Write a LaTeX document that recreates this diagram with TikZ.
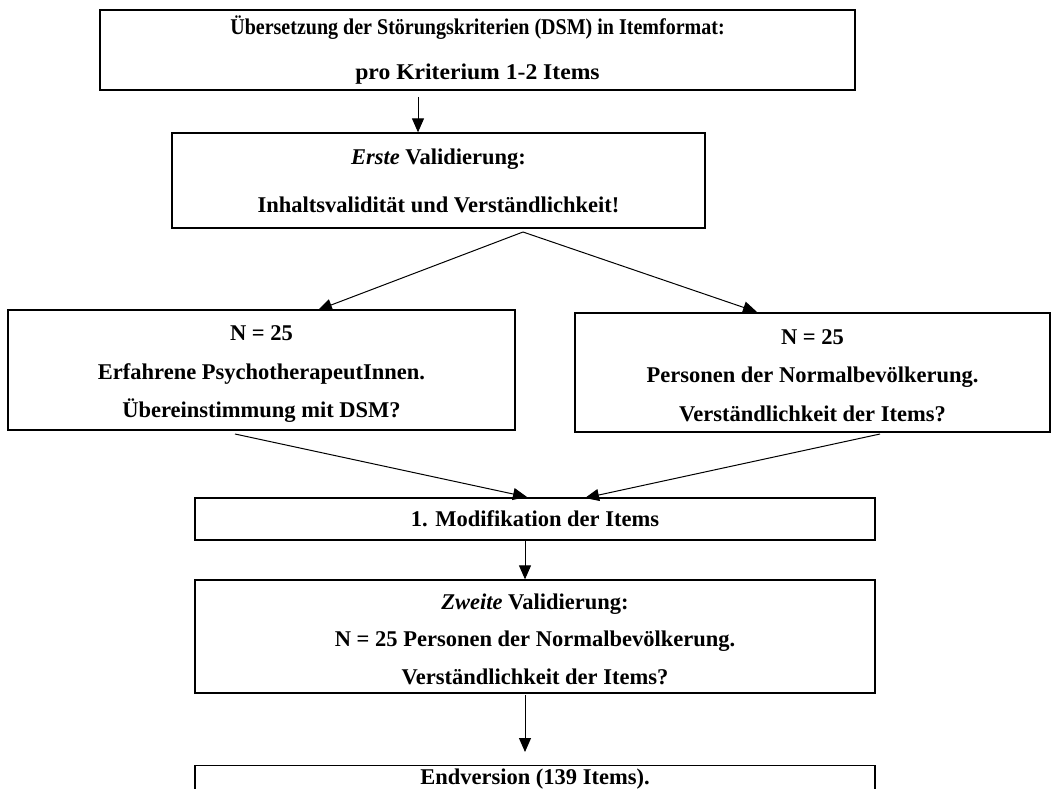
\documentclass[tikz,border=0pt]{standalone}
\usepackage{fontspec}
\setmainfont{Liberation Serif}
\usetikzlibrary{arrows.meta,calc}
\newcommand{\topstrut}[1]{\rule{0pt}{#1}}
\begin{document}
\begin{tikzpicture}[x=1pt,y=-1pt,
  box/.style={draw, line width=1.3pt, inner sep=0pt, align=center},
  fs/.style={font=\bfseries\fontsize{22.5}{#1}\selectfont},
  arr/.style={-{Triangle[length=14pt,width=12pt]}, line width=1pt}]
\clip (0,0) rectangle (1058,789);
\fill[white] (0,0) rectangle (1058,789);

\node[box, fs=45, minimum width=755pt, minimum height=80pt] (top) at (477.5,50)
  {\scalebox{0.89}[1]{Übersetzung der Störungskriterien (DSM) in Itemformat:}\\ \scalebox{1.05}[1]{pro Kriterium 1-2 Items}};
\node[box, fs=48, minimum width=533pt, minimum height=95pt] (val1) at (438.5,180.5)
  {\textit{Erste} Validierung:\\ Inhaltsvalidität und Verständlichkeit!};
\node[box, fs=38.5, minimum width=507pt, minimum height=120pt] (left) at (261.5,370)
  {\topstrut{23pt}N = 25\\ Erfahrene PsychotherapeutInnen.\\ Übereinstimmung mit DSM?};
\node[box, fs=38.5, minimum width=475pt, minimum height=119pt] (right) at (812.5,372.5)
  {\topstrut{21pt}N = 25\\ Personen der Normalbevölkerung.\\ Verständlichkeit der Items?};
\node[box, fs=24, minimum width=680pt, minimum height=42pt] (mod) at (535,519)
  {1. Modifikation der Items};
\node[box, fs=37.5, minimum width=680pt, minimum height=113pt] (val2) at (535,636.5)
  {\topstrut{21pt}\textit{Zweite} Validierung:\\ N = 25 Personen der Normalbevölkerung.\\ Verständlichkeit der Items?};
\node[box, fs=24, minimum width=680pt, anchor=north, inner ysep=3pt, text depth=30pt] (end) at (535,765)
  {Endversion (139 Items).};

\coordinate (a1) at (418,97);
\draw[arr] (a1) -- (a1 |- val1.north);
\coordinate (sp) at (523,232);
\coordinate (lt) at (318,310);
\coordinate (rt) at (757,312);
\draw[arr] (sp) -- (lt);
\draw[arr] (sp) -- (rt);
\coordinate (ls) at (235,434);
\coordinate (rs) at (880,434);
\coordinate (mt1) at (527,497);
\coordinate (mt2) at (585,498);
\draw[arr] (ls) -- (mt1);
\draw[arr] (rs) -- (mt2);
\coordinate (a4) at (525,541);
\draw[arr] (a4) -- (a4 |- val2.north);
\coordinate (a5) at (525,695);
\coordinate (a5e) at (525,752);
\draw[arr] (a5) -- (a5e);
\end{tikzpicture}
\end{document}
